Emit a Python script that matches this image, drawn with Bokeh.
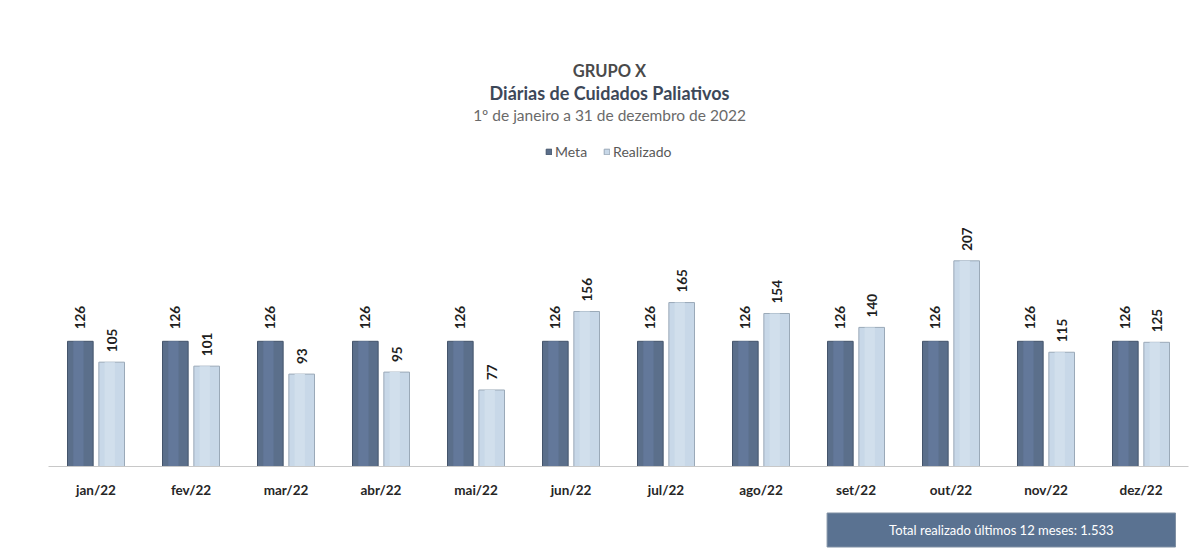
from bokeh.plotting import figure
from bokeh.models import ColumnDataSource, FactorRange, Range1d, Label, Legend, LegendItem, Title
from bokeh.transform import dodge
from bokeh.core.properties import value
from bokeh.embed import file_html
from bokeh.resources import INLINE
import math

months = ["jan/22", "fev/22", "mar/22", "abr/22", "mai/22", "jun/22",
          "jul/22", "ago/22", "set/22", "out/22", "nov/22", "dez/22"]
meta = [126, 126, 126, 126, 126, 126, 126, 126, 126, 126, 126, 126]
realizado = [105, 101, 93, 95, 77, 156, 165, 154, 140, 207, 115, 125]
total_text = "Total realizado últimos 12 meses: 1.533"

FONT = "Lato"
src = ColumnDataSource(dict(month=months, meta=meta, realizado=realizado,
                            meta_t=[str(v) for v in meta],
                            real_t=[str(v) for v in realizado]))

p = figure(width=1191, height=557, x_range=FactorRange(*months),
           y_range=Range1d(0, 469), output_backend="svg", toolbar_location=None,
           min_border_left=48, min_border_right=3, min_border_top=0,
           min_border_bottom=0)
p.outline_line_color = None
p.grid.visible = False
p.yaxis.visible = False

OFF = 0.165
W = 0.27
r1 = p.vbar(x=dodge("month", -OFF, range=p.x_range), top="meta", width=W, bottom=0,
            source=src, fill_color="#5b6f8b", line_color="#44546b", line_width=1)
r2 = p.vbar(x=dodge("month", OFF, range=p.x_range), top="realizado", width=W, bottom=0,
            source=src, fill_color="#c8d8e8", line_color="#9aa9b8", line_width=1)
# subtle highlight stripes to imitate the cylinder shading
p.vbar(x=dodge("month", -OFF - 0.02, range=p.x_range), top="meta", width=W * 0.4, bottom=0,
       source=src, fill_color="#63789a", line_color=None)
p.vbar(x=dodge("month", OFF - 0.02, range=p.x_range), top="realizado", width=W * 0.4, bottom=0,
       source=src, fill_color="#d1dfec", line_color=None)

p.text(x=dodge("month", -OFF, range=p.x_range), y="meta", text="meta_t", source=src,
       angle=math.pi / 2, text_align="left", text_baseline="middle", y_offset=-12,
       text_font=value(FONT), text_font_style="bold", text_font_size="13.5px",
       text_color="#1e1e1e")
p.text(x=dodge("month", OFF, range=p.x_range), y="realizado", text="real_t", source=src,
       angle=math.pi / 2, text_align="left", text_baseline="middle", y_offset=-10,
       text_font=value(FONT), text_font_style="bold", text_font_size="13.5px",
       text_color="#1e1e1e")

ax = p.xaxis[0]
ax.axis_line_color = "#c8c8c8"
ax.major_tick_line_color = None
ax.minor_tick_line_color = None
ax.major_label_standoff = 9
ax.major_label_text_font = FONT
ax.major_label_text_font_style = "bold"
ax.major_label_text_font_size = "13.5px"
ax.major_label_text_color = "#262626"

legend = Legend(items=[LegendItem(label="Meta", renderers=[r1]),
                       LegendItem(label="Realizado", renderers=[r2])],
                location=(497, 306), orientation="horizontal",
                glyph_width=7, glyph_height=7, label_text_font=FONT,
                label_text_font_size="14px", label_text_color="#595959",
                border_line_color=None, background_fill_alpha=0,
                padding=2, spacing=16, margin=0, label_standoff=3)
p.add_layout(legend, "center")

cx = 561
p.add_layout(Label(x=cx, y=396, x_units="screen", y_units="screen", text="GRUPO X",
                   text_align="center", text_baseline="middle", text_font=FONT,
                   text_font_style="bold", text_font_size="16.5px", text_color="#4a4a4a"))
p.add_layout(Label(x=cx, y=374, x_units="screen", y_units="screen",
                   text="Diárias de Cuidados Paliativos",
                   text_align="center", text_baseline="middle", text_font=FONT,
                   text_font_style="bold", text_font_size="18px", text_color="#3d4858"))
p.add_layout(Label(x=cx, y=352, x_units="screen", y_units="screen",
                   text="1º de janeiro a 31 de dezembro de 2022",
                   text_align="center", text_baseline="middle", text_font=FONT,
                   text_font_size="15.5px", text_color="#6a6a6a"))

p.add_layout(Title(text=total_text, align="right", offset=13, standoff=21,
                   text_font=FONT, text_font_size="13px", text_font_style="normal",
                   text_color="#ffffff", background_fill_color="#5a7291",
                   border_line_color="#7f8fa3",
                   padding=dict(left=62, right=62, top=9, bottom=9)), "below")

open("out.html", "w").write(file_html(p, INLINE))
